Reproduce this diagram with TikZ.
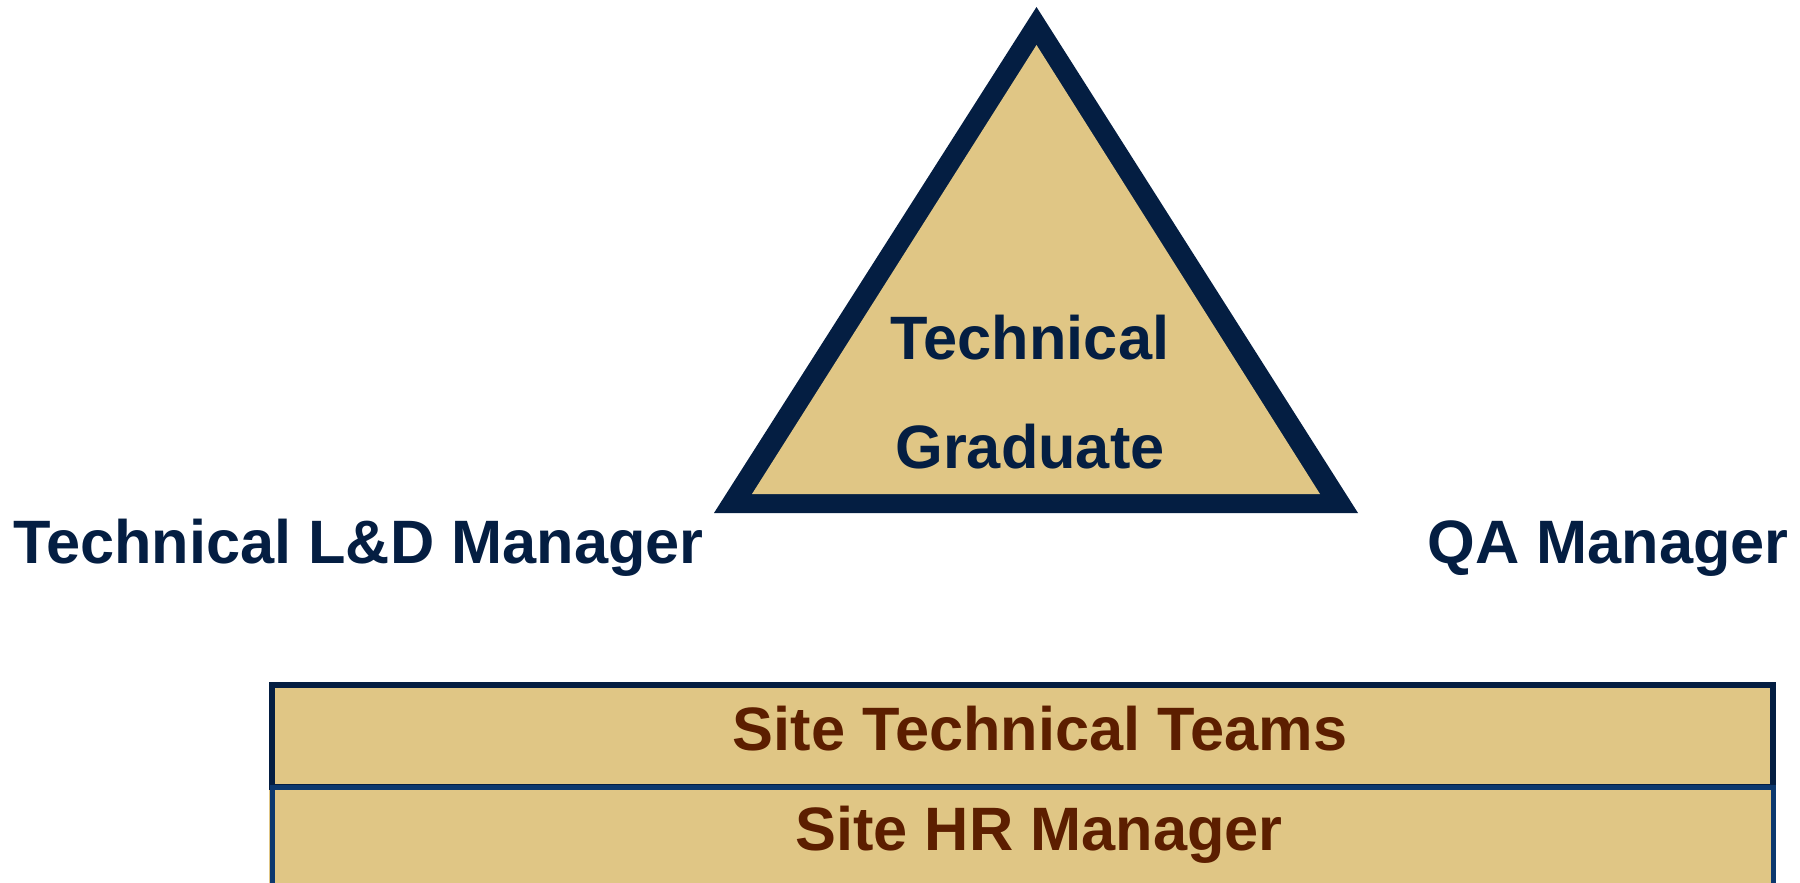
\documentclass[tikz,border=0pt]{standalone}
\usepackage{fontspec}
\setmainfont{Liberation Sans}
\definecolor{navy}{RGB}{4,30,66}
\definecolor{tan}{RGB}{224,198,133}
\definecolor{midblue}{RGB}{12,56,110}
\definecolor{brown}{RGB}{92,30,0}
\tikzset{
  big/.style={font=\fontsize{61.3}{72}\selectfont\bfseries, inner sep=0pt, anchor=base},
  navytext/.style={big, text=navy},
  browntext/.style={big, text=brown}
}
\begin{document}
\begin{tikzpicture}[x=1pt,y=-1pt]
\useasboundingbox (0,0) rectangle (1800,883);
% triangle
\coordinate (oa) at (1036.5,7);
\coordinate (ol) at (714,513);
\coordinate (or) at (1358,513);
\coordinate (ia) at (1036.5,45);
\coordinate (il) at (752,494);
\coordinate (ir) at (1320,494);
\fill[navy] (oa) -- (ol) -- (or) -- cycle;
\fill[tan] (ia) -- (il) -- (ir) -- cycle;
\node[navytext] (t1) at (1030,359) {Technical};
\node[navytext] (t2) at (1030,468) {Graduate};
% side labels
\node[navytext, anchor=base west] (ld) at (13,563) {Technical L\&D Manager};
\node[navytext, anchor=base east] (qa) at (1789,563) {QA Manager};
% boxes
\fill[tan] (269,682) rectangle (1776,900);
\draw[navy, line width=6] (272,685) rectangle (1773,787);
\draw[midblue, line width=5] (272,900) -- (272,787) -- (1773,787) -- (1773,900);
\node[browntext] (st) at (1040,750) {Site Technical Teams};
\node[browntext] (hr) at (1039,850) {Site HR Manager};
\end{tikzpicture}
\end{document}
